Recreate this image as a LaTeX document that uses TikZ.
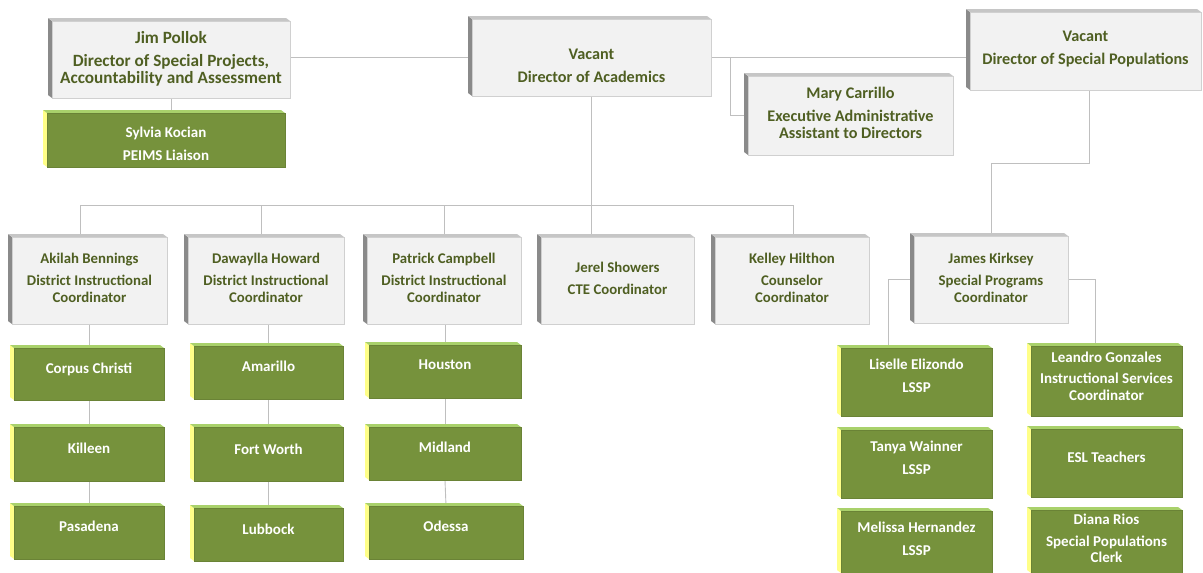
\documentclass[tikz,border=0pt]{standalone}
\usepackage{fontspec}
\setmainfont{Carlito}
\usetikzlibrary{calc}
\pgfdeclarelayer{bg}
\pgfsetlayers{bg,main}
\definecolor{txtc}{HTML}{4F5F22}
\definecolor{gface}{HTML}{F2F2F2}
\definecolor{gedge}{HTML}{D0D0D0}
\definecolor{gsidec}{HTML}{8A8A8A}
\definecolor{gtopc}{HTML}{C6C6C6}
\definecolor{vface}{HTML}{76923C}
\definecolor{vsidec}{HTML}{FFFF88}
\definecolor{vtopc}{HTML}{A9D16B}
\definecolor{linec}{HTML}{BFBFBF}
\tikzset{
  gface/.style={fill=gface, draw=gedge, line width=0.5pt, inner sep=0pt},
  vface/.style={fill=vface, draw=vface!90!black, line width=0.5pt, inner sep=0pt},
  gtext/.style={inner sep=0pt, align=center, text=txtc,
    font=\bfseries\fontsize{14.8}{17}\selectfont},
  vtext/.style={inner sep=0pt, align=center, text=white,
    font=\bfseries\fontsize{15}{16.5}\selectfont},
  topfont/.style={font=\bfseries\fontsize{16.2}{17}\selectfont},
  jimfont/.style={font=\bfseries\fontsize{17.2}{17}\selectfont},
  gside/.style={fill=gsidec},
  gtop/.style={fill=gtopc},
  vside/.style={fill=vsidec},
  vtop/.style={fill=vtopc},
  conn/.style={draw=linec, line width=0.9pt},
}
% [#1 extra], #2 g or v, #3 name, #4 x0, #5 y0, #6 x1, #7 y1, #8 text offset (down), #9 text
\newcommand\orgbox[9][]{%
  \fill[#2side] (#4-4,#5-3) -- (#4,#5) -- (#4,#7) -- (#4-4,#7-3) -- cycle;
  \fill[#2top] (#4-4,#5-3) -- (#6-4,#5-3) -- (#6,#5) -- (#4,#5) -- cycle;
  \node[#2face, minimum width=#6-#4, minimum height=#7-#5] (#3) at ({(#4+#6)/2},{(#5+#7)/2}) {};
  \node[#2text, #1] (#3-t) at ($(#3.center)+(0,#8)$) {#9};
}
\begin{document}
\begin{tikzpicture}[x=1pt,y=-1pt]
\useasboundingbox (0,0) rectangle (1203,573);
% top row
\orgbox[jimfont]{g}{jim}{52}{21}{290}{98}{-1}{Jim Pollok\\[6pt]Director of Special Projects,\\Accountability and Assessment}
\orgbox{v}{sylvia}{47}{113}{285}{167}{4}{Sylvia Kocian\\[6pt]PEIMS Liaison}
\orgbox[topfont]{g}{acad}{472}{19}{711}{96}{8}{Vacant\\[6pt]Director of Academics}
\orgbox[topfont]{g}{mary}{748}{76}{953}{155}{-3}{Mary Carrillo\\[6pt]Executive Administrative\\Assistant to Directors}
\orgbox[topfont]{g}{spop}{970}{12}{1201}{90}{-1.5}{Vacant\\[6pt]Director of Special Populations}
% second row
\orgbox{g}{akilah}{12}{237}{167}{324}{-2.5}{Akilah Bennings\\[5pt]District Instructional\\Coordinator}
\orgbox{g}{daw}{188}{237}{344}{324}{-2.5}{Dawaylla Howard\\[5pt]District Instructional\\Coordinator}
\orgbox{g}{pat}{367}{237}{521}{324}{-2.5}{Patrick Campbell\\[5pt]District Instructional\\Coordinator}
\orgbox{g}{jerel}{541}{237}{694}{324}{-2}{Jerel Showers\\[5pt]CTE Coordinator}
\orgbox{g}{kelley}{715}{237}{869}{324}{-2.5}{Kelley Hilthon\\[5pt]Counselor\\Coordinator}
\orgbox{g}{james}{914}{236}{1068}{323}{-2}{James Kirksey\\[5pt]Special Programs\\Coordinator}
% green columns
\orgbox{v}{cc}{14}{348}{164}{400}{-5}{Corpus Christi}
\orgbox{v}{kil}{14}{427}{164}{481}{-6}{Killeen}
\orgbox{v}{pas}{14}{506}{164}{559}{-6}{Pasadena}
\orgbox{v}{ama}{194}{346}{343}{399}{-6}{Amarillo}
\orgbox{v}{fw}{194}{427}{343}{481}{-5}{Fort Worth}
\orgbox{v}{lub}{194}{508}{343}{561}{-5}{Lubbock}
\orgbox{v}{hou}{369}{345}{521}{398}{-7}{Houston}
\orgbox{v}{mid}{369}{427}{521}{480}{-6}{Midland}
\orgbox{v}{ode}{369}{506}{523}{559}{-6}{Odessa}
\orgbox{v}{lis}{841}{348}{992}{416}{-6}{Liselle Elizondo\\[6pt]LSSP}
\orgbox{v}{tan}{841}{430}{992}{498}{-6}{Tanya Wainner\\[6pt]LSSP}
\orgbox{v}{mel}{841}{511}{992}{573}{-3}{Melissa Hernandez\\[6pt]LSSP}
\orgbox{v}{lea}{1031}{346}{1182}{416}{-5}{Leandro Gonzales\\[5pt]Instructional Services\\Coordinator}
\orgbox{v}{esl}{1031}{429}{1182}{497}{-6}{ESL Teachers}
\orgbox{v}{dia}{1031}{510}{1182}{573}{-3}{Diana Rios\\[5pt]Special Populations\\Clerk}
% connectors
\coordinate (mj) at (730,57);
\coordinate (busL) at (80,205);
\coordinate (busR) at (793,205);
\begin{pgfonlayer}{bg}
\draw[conn] (jim.east |- acad.west) -- (acad.west);
\draw[conn] (acad.east) -- (acad.east -| spop.west);
\draw[conn] (mj) |- (mary.west);
\draw[conn] (jim.south) -- (jim.south |- sylvia.north);
\draw[conn] (acad.south) -- (acad.south |- jerel.north);
\draw[conn] (busL |- akilah.north) -- (busL) -- (busR) -- (busR |- kelley.north);
\draw[conn] ([xshift=-5pt]daw.north) -- ([xshift=-5pt]daw.north |- busL);
\draw[conn] (pat.north) -- (pat.north |- busL);
\draw[conn] ([xshift=4pt]spop.south) -- ++(0,73) -| (james.north);
\draw[conn] (james.west) -| ([xshift=-28pt]lis.north);
\draw[conn] (james.east) -| ([xshift=-11pt]lea.north);
\draw[conn] (akilah.south -| cc.north) -- (cc.north);
\draw[conn] (cc.south) -- (kil.north);
\draw[conn] (kil.south) -- (pas.north);
\draw[conn] (daw.south -| ama.north) -- (ama.north);
\draw[conn] (ama.south) -- (fw.north);
\draw[conn] (fw.south) -- (lub.north);
\draw[conn] (pat.south -| hou.north) -- (hou.north);
\draw[conn] (hou.south) -- (mid.north);
\draw[conn] (mid.south) -- (ode.north);
\end{pgfonlayer}
\end{tikzpicture}
\end{document}
